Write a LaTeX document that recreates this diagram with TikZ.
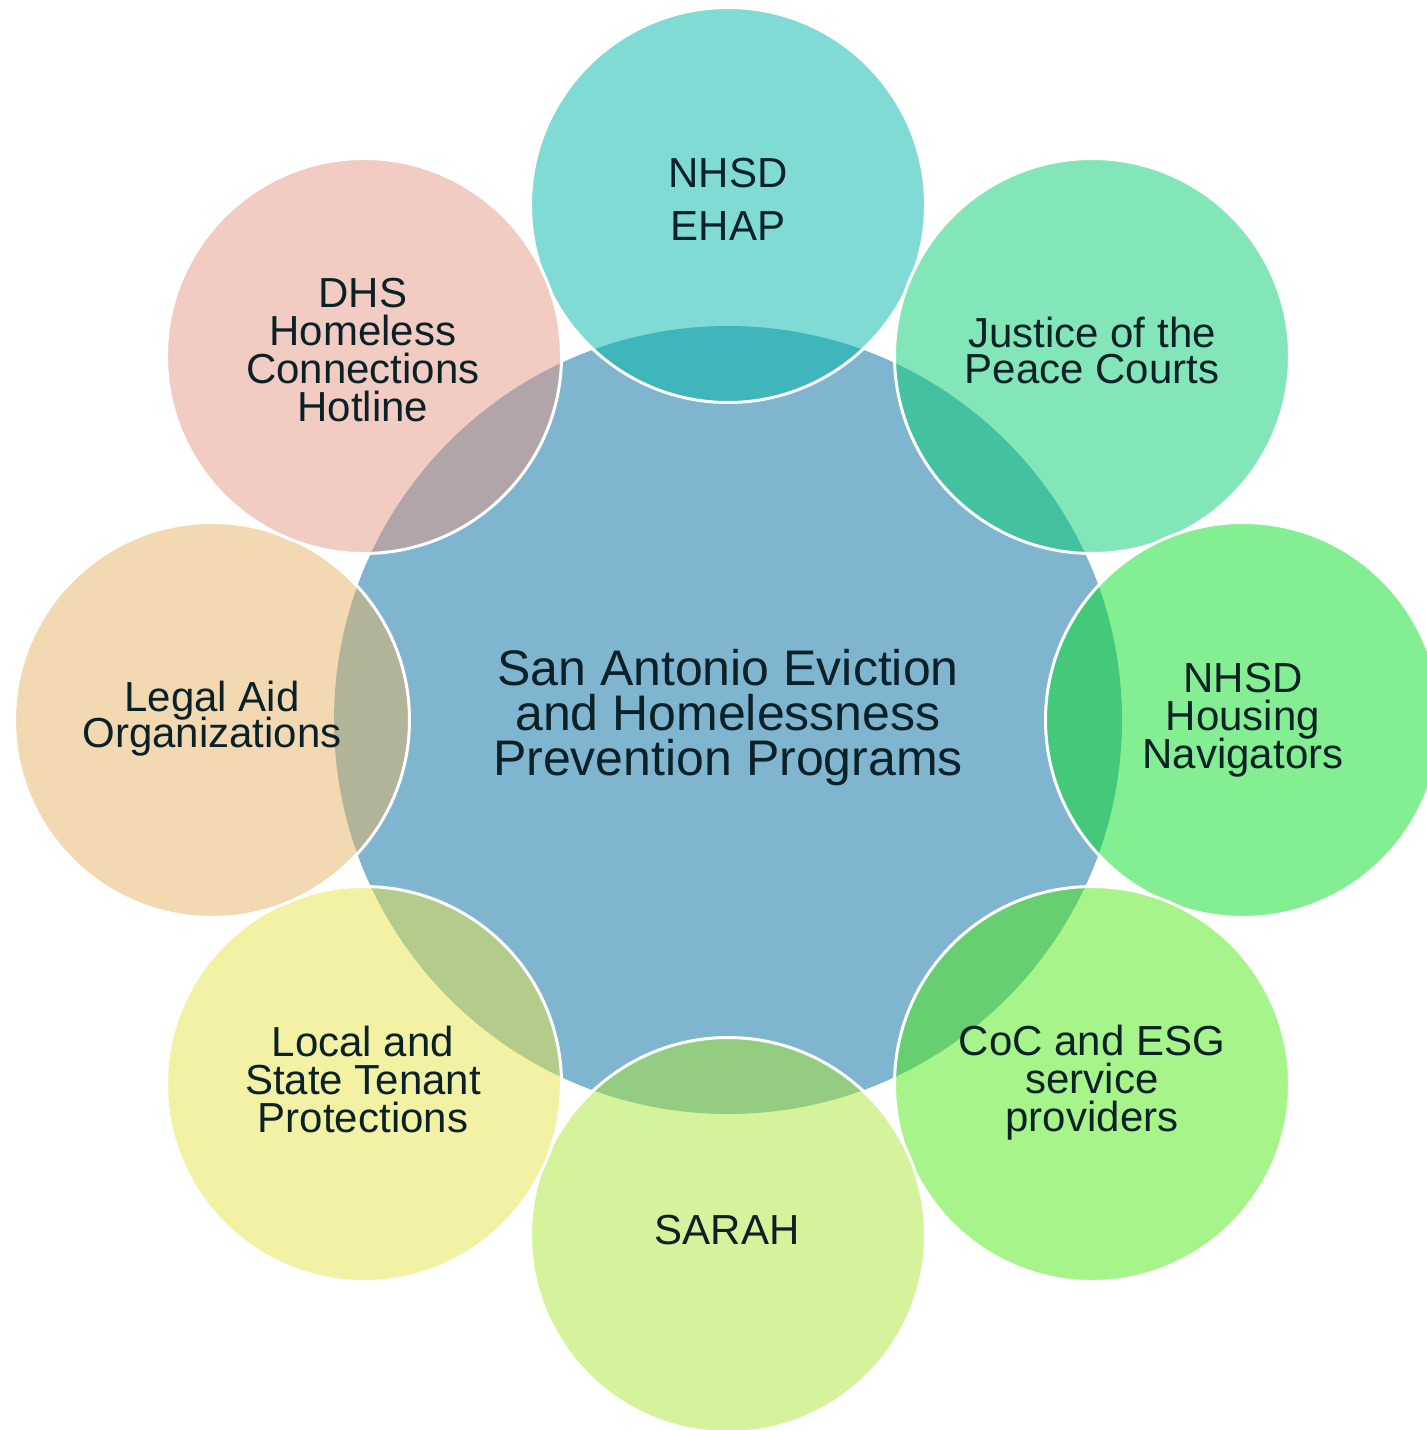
\documentclass[tikz,border=0pt]{standalone}
\usepackage{fontspec}
\setmainfont{Liberation Sans}

% base colours, laid down at half opacity
\definecolor{hubblue}{RGB}{1,107,161}
\definecolor{cteal}{RGB}{0,183,169}
\definecolor{cmint}{RGB}{7,205,113}
\definecolor{cgreen}{RGB}{9,221,37}
\definecolor{clime}{RGB}{79,233,21}
\definecolor{cyellowgreen}{RGB}{169,231,53}
\definecolor{cyellow}{RGB}{231,227,73}
\definecolor{csand}{RGB}{229,179,101}
\definecolor{csalmon}{RGB}{229,151,133}
\definecolor{ink}{HTML}{0B2128}

\begin{document}
\setlength{\lineskiplimit}{-100bp}
\begin{tikzpicture}[x=1bp,y=-1bp,
  hub/.style={circle, minimum size=788bp, inner sep=0pt, fill=hubblue, fill opacity=0.5},
  petal/.style={circle, minimum size=395bp, inner sep=0pt, fill=#1, fill opacity=0.5,
                draw=white, draw opacity=1, line width=3bp},
  hubtext/.style={align=center, text=ink, inner sep=0pt,
                  font={\fontsize{50bp}{45bp}\selectfont}},
  petaltext/.style={align=center, text=ink, inner sep=0pt,
                    font={\fontsize{42bp}{#1}\selectfont}},
  petaltext/.default=38bp
]
\useasboundingbox (0,0) rectangle (1427,1430);

% central circle
\node[hub] (center) at (728,720) {};

% surrounding circles
\node[petal=cteal]        (ehap)       at (728,205)  {};
\node[petal=cmint]        (courts)     at (1092,356) {};
\node[petal=cgreen]       (navigators) at (1243,720) {};
\node[petal=clime]        (providers)  at (1092,1084) {};
\node[petal=cyellowgreen] (sarah)      at (728,1235) {};
\node[petal=cyellow]      (tenant)     at (364,1084) {};
\node[petal=csand]        (legalaid)   at (212,720)  {};
\node[petal=csalmon]      (hotline)    at (364,356)  {};

% labels
\node[hubtext] (center-t) at (728,718)
  {San Antonio Eviction\\and Homelessness\\Prevention Programs};
\node[petaltext=53bp] (ehap-t)       at (728,199.5) {NHSD\\EHAP};
\node[petaltext=36bp] (courts-t)     at (1092,350)  {Justice of the\\Peace Courts};
\node[petaltext]      (navigators-t) at (1243,720)  {NHSD\\Housing\\Navigators};
\node[petaltext]      (providers-t)  at (1092,1083) {CoC and ESG\\service\\providers};
\node[petaltext]      (sarah-t)      at (727,1230)  {SARAH};
\node[petaltext]      (tenant-t)     at (363,1079)  {Local and\\State Tenant\\Protections};
\node[petaltext=36bp] (legalaid-t)   at (212,719)   {Legal Aid\\Organizations};
\node[petaltext]      (hotline-t)    at (363,350)   {DHS\\Homeless\\Connections\\Hotline};
\end{tikzpicture}
\end{document}
